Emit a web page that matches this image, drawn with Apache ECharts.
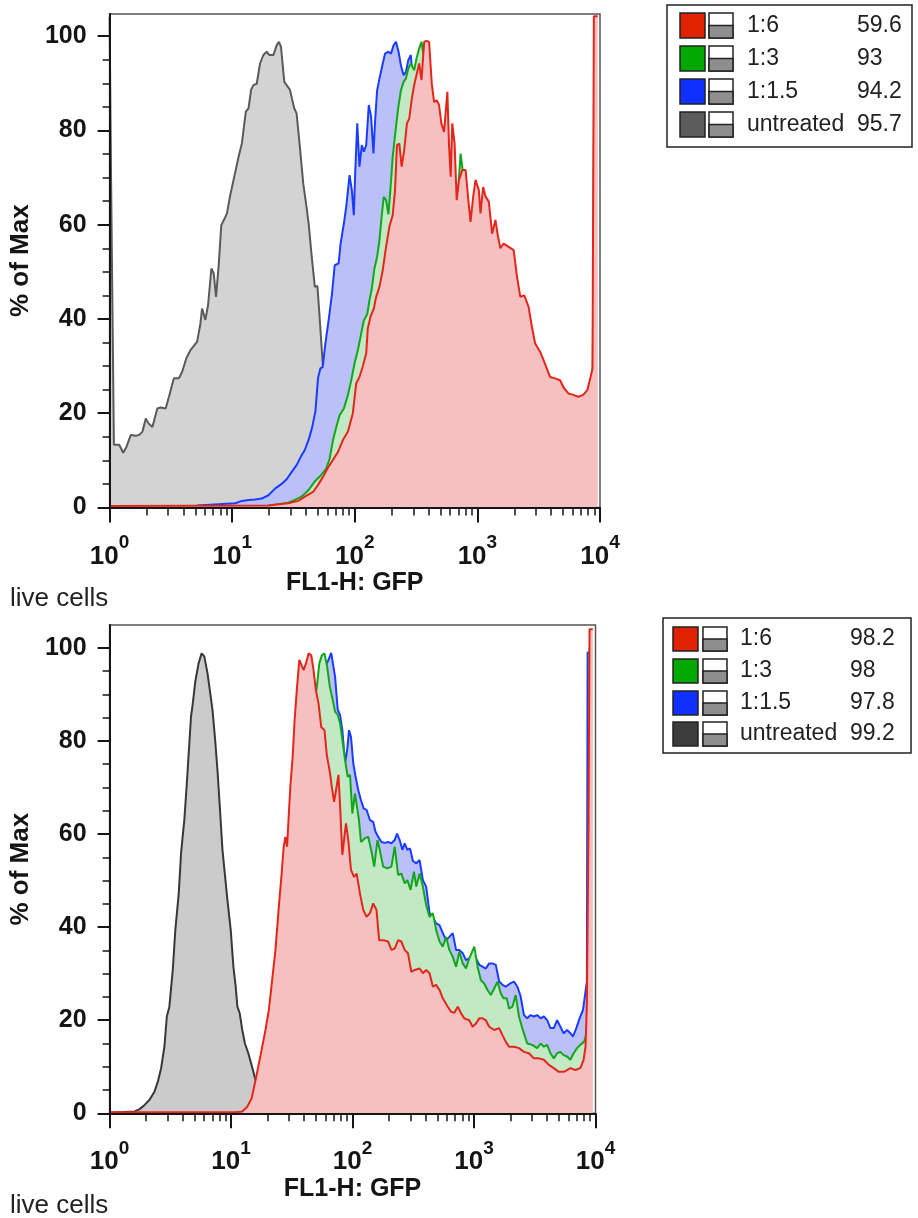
<!DOCTYPE html>
<html>
<head>
<meta charset="utf-8">
<script src="https://cdn.jsdelivr.net/npm/echarts@6/dist/echarts.min.js"></script>
<style>
  html, body { margin: 0; padding: 0; background: #fff; }
  #chart { width: 918px; height: 1218px; }
</style>
</head>
<body>
<div id="chart"></div>
<script>
// x = log10(FL1-H: GFP), y = % of Max
// ---------- top panel ----------
var topGray = [[0,104],[0.012,69.5],[0.035,13.3],[0.078,13.3],[0.111,11.6],[0.138,12.9],[0.173,15.4],[0.214,15.2],[0.241,15.4],[0.268,16.1],[0.295,18.9],[0.316,17.9],[0.349,17.1],[0.389,21],[0.416,21.2],[0.457,21],[0.484,23.5],[0.524,27.4],[0.565,27.4],[0.592,28.8],[0.625,31.6],[0.66,33.4],[0.714,35.2],[0.741,39.1],[0.754,42.2],[0.781,39.8],[0.803,42.9],[0.83,50.7],[0.849,49.7],[0.868,44.7],[0.889,51.1],[0.911,59.9],[0.938,61.3],[0.957,62.4],[0.984,66.3],[1.017,70.2],[1.052,74.4],[1.079,77.3],[1.111,84],[1.133,84.7],[1.154,88.6],[1.173,89.6],[1.2,89.9],[1.227,94.2],[1.254,96],[1.281,96.7],[1.303,96],[1.336,96],[1.363,98.1],[1.381,98.8],[1.398,97.7],[1.425,90.3],[1.444,89.6],[1.471,88.6],[1.506,84.7],[1.525,83.6],[1.552,76.5],[1.579,68.8],[1.606,63.8],[1.625,59.9],[1.646,53.9],[1.674,46.8],[1.695,47],[1.714,40],[1.741,29.5],[1.78,18],[1.84,8],[1.9,3],[1.98,0.5],[2.05,0]];
var topBlue = [[0.714,0.4],[1.025,0.9],[1.079,1.4],[1.133,1.6],[1.187,1.7],[1.241,1.9],[1.295,2.6],[1.349,4],[1.403,5],[1.444,6],[1.484,7.5],[1.525,9],[1.56,10.8],[1.592,12.2],[1.625,14.5],[1.652,17],[1.679,20.5],[1.7,27.5],[1.719,29.5],[1.738,29.8],[1.76,34.8],[1.787,39.8],[1.814,45.4],[1.836,51.4],[1.868,51.8],[1.884,56],[1.911,60.3],[1.93,63.8],[1.957,70.5],[1.976,67.3],[1.992,62],[2.003,70.9],[2.02,81.5],[2.038,72.3],[2.057,76.9],[2.074,75.5],[2.093,76.9],[2.114,85.4],[2.133,82.9],[2.152,75.1],[2.166,82.2],[2.182,88.5],[2.201,91],[2.228,94.2],[2.247,96.3],[2.274,96.7],[2.295,96.3],[2.317,98.1],[2.336,98.8],[2.357,96.7],[2.376,93.8],[2.398,91.7],[2.417,92.4],[2.436,94.9],[2.457,96],[2.48,88],[2.52,80],[2.6,70],[2.7,58],[2.8,48],[2.9,40],[3,33],[3.1,27],[3.2,22],[3.3,18],[3.4,16],[3.5,14],[3.6,13],[3.7,12],[3.8,12],[3.9,14],[3.94,20],[3.96,100],[3.975,100]];
var topGreen = [[1.281,0.3],[1.457,1],[1.511,1.6],[1.565,2.3],[1.619,3.6],[1.673,5.5],[1.727,6.9],[1.768,8.3],[1.795,10.4],[1.822,14.3],[1.849,17.1],[1.876,19.6],[1.911,21],[1.944,23.9],[1.971,27],[1.998,30.6],[2.025,33.4],[2.052,36.9],[2.074,39.7],[2.101,41],[2.12,44],[2.139,46.5],[2.16,50.7],[2.182,53.2],[2.201,56.7],[2.22,62],[2.236,65.9],[2.255,65.2],[2.274,62.2],[2.29,67.3],[2.309,74.4],[2.33,79.4],[2.355,85],[2.376,88.5],[2.398,90.3],[2.417,91],[2.436,93.1],[2.457,94.2],[2.484,92.8],[2.506,95.6],[2.525,97.4],[2.544,98.8],[2.56,98.8],[2.58,93],[2.62,84],[2.66,80],[2.7,76],[2.74,68],[2.8,63],[2.835,64],[2.863,75.1],[2.885,70.5],[2.92,64],[3,58],[3.1,52],[3.2,45],[3.3,35],[3.4,27],[3.5,22],[3.6,19],[3.7,18],[3.8,18],[3.88,20],[3.94,26],[3.955,100],[3.975,100]];
var topRed = [[0,0.3],[1.295,0.4],[1.457,0.9],[1.538,1.4],[1.606,2.5],[1.66,3.3],[1.7,4.8],[1.741,6.5],[1.782,8.5],[1.822,10.1],[1.863,11.8],[1.903,14.3],[1.944,16.1],[1.984,20],[2.011,26.3],[2.038,27.7],[2.065,29.9],[2.093,32.7],[2.106,38],[2.128,40.5],[2.155,42.2],[2.174,44.7],[2.201,46.8],[2.228,50.4],[2.255,55.3],[2.282,59.6],[2.309,62],[2.328,67.3],[2.344,76.9],[2.363,77.2],[2.382,72.3],[2.403,75.8],[2.425,81.5],[2.444,82.5],[2.463,86.4],[2.484,89.6],[2.506,92.1],[2.525,94.2],[2.544,90.7],[2.566,98.8],[2.587,99],[2.606,98.8],[2.628,89.9],[2.647,86],[2.668,86.4],[2.687,85.4],[2.706,81.5],[2.728,79.7],[2.755,88.2],[2.768,77.2],[2.782,70.2],[2.795,81.5],[2.814,77.2],[2.831,65.2],[2.85,69.5],[2.877,71.6],[2.904,71.6],[2.923,66],[2.944,60.6],[2.966,66],[2.985,69.5],[3.012,67.3],[3.025,62.4],[3.047,68],[3.066,66],[3.093,64.9],[3.12,58.1],[3.147,61],[3.166,57.8],[3.187,55],[3.214,56],[3.255,55.3],[3.296,54.6],[3.323,49],[3.35,44.7],[3.382,45],[3.417,42.6],[3.444,38.4],[3.471,34.8],[3.512,33],[3.539,31.3],[3.566,29.5],[3.593,27.7],[3.634,27.4],[3.674,27],[3.707,25.3],[3.742,24.2],[3.782,23.9],[3.823,23.5],[3.863,23.9],[3.896,24.9],[3.923,27.7],[3.939,29.5],[3.95,104.2],[3.982,104.2]];

// ---------- bottom panel ----------
var botGray = [[0,0.1],[0.206,0.4],[0.247,0.9],[0.288,1.8],[0.329,2.9],[0.37,4.7],[0.397,6.8],[0.424,9.7],[0.451,14.3],[0.471,20.8],[0.492,22.9],[0.52,30.8],[0.541,39.4],[0.569,47.2],[0.588,55.8],[0.601,59.4],[0.615,63],[0.634,70.2],[0.651,77.3],[0.67,85.2],[0.683,87.7],[0.705,92.7],[0.732,96.6],[0.757,98.8],[0.779,98.2],[0.806,94.5],[0.825,90.9],[0.847,86.6],[0.869,80.2],[0.888,73.7],[0.907,65.9],[0.929,56.6],[0.951,50.8],[0.97,45.8],[0.997,39.4],[1.019,31.5],[1.038,27.2],[1.052,22.9],[1.071,21.5],[1.092,17.9],[1.114,15],[1.142,12.9],[1.161,11.1],[1.18,9.3],[1.202,7],[1.243,4.5],[1.297,2],[1.365,0.5],[1.474,0]];
var botBlue = [[1.038,0.2],[1.174,0.3],[1.311,10],[1.42,30],[1.529,58],[1.638,78],[1.72,89],[1.775,96],[1.802,97.4],[1.824,98.9],[1.84,98.8],[1.856,93.8],[1.878,86.7],[1.897,85.6],[1.916,82.3],[1.938,75.2],[1.957,78.4],[1.971,82.3],[1.987,80.9],[2.006,75.2],[2.025,72.3],[2.047,69.4],[2.069,67.3],[2.091,65.5],[2.115,65.2],[2.143,63],[2.17,62.6],[2.189,60.5],[2.211,59.4],[2.238,58.3],[2.265,58.1],[2.293,58.3],[2.32,58],[2.347,58.7],[2.366,60.1],[2.388,58.7],[2.41,56.6],[2.429,58],[2.451,56.6],[2.473,56.9],[2.497,54.2],[2.525,53.7],[2.552,54.4],[2.579,50.1],[2.606,48.7],[2.634,43],[2.661,42.2],[2.688,40.8],[2.716,40.4],[2.743,38.7],[2.77,37.2],[2.797,37.9],[2.825,38.7],[2.852,35.1],[2.879,35.1],[2.907,34.4],[2.934,32.9],[2.961,33.3],[2.988,32.2],[3.016,33.3],[3.043,31.9],[3.07,31.5],[3.097,31.1],[3.125,32.2],[3.152,32.2],[3.179,31.9],[3.207,28.3],[3.234,27.6],[3.261,27.2],[3.297,27.9],[3.329,28.3],[3.357,27.2],[3.384,25.1],[3.411,21.1],[3.438,20.4],[3.466,21.1],[3.493,20.8],[3.52,21.1],[3.548,20.4],[3.575,20.8],[3.602,20],[3.629,18.3],[3.657,18.3],[3.684,20],[3.711,18.6],[3.738,17.2],[3.766,17.9],[3.793,17.2],[3.815,16.5],[3.842,18.3],[3.869,20.4],[3.897,22.2],[3.916,25.8],[3.929,28.3],[3.935,99],[3.973,99]];
var botGreen = [[1.038,0.2],[1.161,0.2],[1.229,2.5],[1.311,12],[1.42,34],[1.529,62],[1.638,80.9],[1.706,91.6],[1.726,96.6],[1.747,98.4],[1.769,98.8],[1.791,95.9],[1.813,91.6],[1.834,89.1],[1.856,86.3],[1.878,85.6],[1.897,83.8],[1.916,80.2],[1.938,75.9],[1.96,72.3],[1.979,72.7],[1.998,64.4],[2.02,68.7],[2.034,68.4],[2.053,63],[2.069,58.3],[2.102,59.1],[2.129,59.4],[2.156,56.2],[2.178,53],[2.205,58.7],[2.224,56.6],[2.252,53],[2.287,52.6],[2.32,53],[2.347,57.3],[2.375,51.2],[2.402,51.5],[2.429,49.4],[2.451,50.1],[2.478,48],[2.505,51.9],[2.525,48.7],[2.552,51.5],[2.579,48.7],[2.606,44.7],[2.634,42.2],[2.661,43],[2.688,39.4],[2.716,36.9],[2.743,35.8],[2.77,37.9],[2.797,35.1],[2.825,33.6],[2.852,31.5],[2.879,34.7],[2.907,32.2],[2.934,31.1],[2.961,33.3],[3.002,35.8],[3.029,31.5],[3.057,28.6],[3.084,27.9],[3.111,26.5],[3.138,25.4],[3.166,26.8],[3.193,28.3],[3.22,25.8],[3.242,24.7],[3.269,24.7],[3.288,22.5],[3.316,22.9],[3.343,25.4],[3.37,20.8],[3.397,18.3],[3.438,15],[3.479,14.7],[3.52,14],[3.548,15],[3.575,14.3],[3.602,14.7],[3.629,12.9],[3.657,11.8],[3.684,12.9],[3.711,13.2],[3.738,12.5],[3.766,12.2],[3.793,11.5],[3.82,12.9],[3.848,14],[3.875,14.7],[3.907,15.4],[3.924,17],[3.935,20],[3.951,100],[3.973,100]];
var botRed = [[0,0.2],[1.038,0.2],[1.092,0.4],[1.133,1.4],[1.169,3.2],[1.202,7.2],[1.243,12.5],[1.283,17.9],[1.311,22.2],[1.338,28.6],[1.365,35],[1.393,44.4],[1.414,50.8],[1.433,57.3],[1.447,59.4],[1.461,57.3],[1.474,63.7],[1.488,70.2],[1.507,76.6],[1.523,84.5],[1.543,91.6],[1.562,97.4],[1.578,97.7],[1.597,95.2],[1.616,96.6],[1.638,98.8],[1.66,98.4],[1.679,95.2],[1.698,90.9],[1.72,88],[1.742,83],[1.769,82.3],[1.788,77],[1.815,73],[1.829,70.2],[1.848,66.9],[1.864,69.4],[1.884,72.7],[1.897,66.2],[1.916,55.5],[1.933,59.4],[1.946,62.3],[1.965,58.7],[1.987,52.3],[2.012,50.8],[2.034,51.5],[2.061,47.2],[2.088,43.7],[2.115,42.2],[2.143,43],[2.17,45.1],[2.197,43.7],[2.219,37.2],[2.252,37.2],[2.293,36.9],[2.32,35.1],[2.347,35.4],[2.375,37.2],[2.402,36.9],[2.429,35.1],[2.456,34.4],[2.484,30.4],[2.511,30.8],[2.552,31.1],[2.579,30.1],[2.606,30.8],[2.634,30.1],[2.661,27.2],[2.688,27.6],[2.716,26.5],[2.743,24.7],[2.784,22.9],[2.811,21.8],[2.838,21.6],[2.866,22.9],[2.893,21.5],[2.92,20.4],[2.961,20],[2.988,18.6],[3.016,19.3],[3.043,20.4],[3.07,20.4],[3.097,20],[3.125,18.6],[3.166,17.9],[3.207,18.3],[3.234,16.8],[3.261,15.4],[3.288,14.3],[3.329,14.3],[3.37,14],[3.411,13.2],[3.452,12.9],[3.493,11.8],[3.534,11.8],[3.575,11.5],[3.616,10.4],[3.657,9.7],[3.698,8.9],[3.738,8.9],[3.766,9.3],[3.793,9.7],[3.834,9.3],[3.875,9.7],[3.902,11.5],[3.918,14.3],[3.929,23.6],[3.943,63],[3.951,104],[3.978,104]];

// legend
var legendNames = ['1:6', '1:3', '1:1.5', 'untreated'];
var legendTopValues = ['59.6', '93', '94.2', '95.7'];
var legendBotValues = ['98.2', '98', '97.8', '99.2'];

var xMajor = [0, 1, 2, 3, 4];
var yMajor = [0, 20, 40, 60, 80, 100];
var yMinor = [5, 10, 15, 25, 30, 35, 45, 50, 55, 65, 70, 75, 85, 90, 95];
var xMinor = [];
for (var k = 0; k < 4; k++) {
    for (var m = 2; m <= 9; m++) xMinor.push(k + Math.log10(m));
}

var FONT = '"Liberation Sans", Arial, sans-serif';
var INK = '#151515';

var chart = echarts.init(document.getElementById('chart'));

var grids = [
    {left: 107, top: 14, width: 493, height: 493.5, show: true, borderColor: '#555', borderWidth: 1.5},
    {left: 106.5, top: 625, width: 489, height: 488.3, show: true, borderColor: '#555', borderWidth: 1.5}
];
var yMax = [104.7, 104.9];

var xAxes = [], yAxes = [];
grids.forEach(function (g, i) {
    // main x axis: decades with 10^n labels
    xAxes.push({
        gridIndex: i, type: 'value', min: 0, max: 4, interval: 1, z: 20,
        name: 'FL1-H: GFP', nameLocation: 'middle', nameGap: 58,
        nameTextStyle: {fontFamily: FONT, fontSize: 25, fontWeight: 'bold', color: INK},
        axisLine: {lineStyle: {color: INK, width: 2}},
        axisTick: {length: 15, lineStyle: {color: INK, width: 2}, customValues: xMajor},
        axisLabel: {
            margin: 26, customValues: xMajor,
            formatter: function (v) { return '{b|10}{s|' + Math.round(v) + '}'; },
            rich: {
                b: {fontFamily: FONT, fontSize: 26, fontWeight: 'bold', color: INK, lineHeight: 36, verticalAlign: 'bottom'},
                s: {fontFamily: FONT, fontSize: 19, fontWeight: 'bold', color: INK, lineHeight: 18, verticalAlign: 'top'}
            }
        },
        splitLine: {show: false}
    });
    // minor log ticks
    xAxes.push({
        gridIndex: i, type: 'value', min: 0, max: 4, position: 'bottom', z: 20,
        axisLine: {show: false},
        axisTick: {length: 8, lineStyle: {color: INK, width: 1.5}, customValues: xMinor},
        axisLabel: {show: false},
        splitLine: {show: false}
    });
    yAxes.push({
        gridIndex: i, type: 'value', min: 0, max: yMax[i], interval: 20, z: 20,
        name: '% of Max', nameLocation: 'middle', nameGap: 63,
        nameTextStyle: {fontFamily: FONT, fontSize: 26, fontWeight: 'bold', color: INK},
        axisLine: {show: true, lineStyle: {color: INK, width: 2}},
        axisTick: {show: true, length: 12, lineStyle: {color: INK, width: 2}, customValues: yMajor},
        axisLabel: {margin: 23, customValues: yMajor, fontFamily: FONT, fontSize: 25, fontWeight: 'bold', color: INK},
        splitLine: {show: false}
    });
    yAxes.push({
        gridIndex: i, type: 'value', min: 0, max: yMax[i], position: 'left', z: 20,
        axisLine: {show: false},
        axisTick: {show: true, length: 7, lineStyle: {color: INK, width: 1.5}, customValues: yMinor},
        axisLabel: {show: false},
        splitLine: {show: false}
    });
});

// each histogram gets its own z so that a later one covers both fill and line of the earlier ones
function hist(data, i, z, line, fill) {
    return {
        type: 'line', data: data, xAxisIndex: i * 2, yAxisIndex: i * 2, z: z,
        symbol: 'none', silent: true, animation: false,
        lineStyle: {color: line, width: 2},
        areaStyle: {color: fill, opacity: 1}
    };
}

var series = [
    hist(topGray, 0, 2, '#5a5a5a', '#d3d3d3'),
    hist(topBlue, 0, 3, '#1a3cff', '#bcc0f8'),
    hist(topGreen, 0, 4, '#10a81a', '#c2e8c4'),
    hist(topRed, 0, 5, '#e4261a', '#f6c0c0'),
    hist(botGray, 1, 2, '#383838', '#cbcbcb'),
    hist(botBlue, 1, 3, '#1a3cff', '#bcc0f8'),
    hist(botGreen, 1, 4, '#10a81a', '#c2e8c4'),
    hist(botRed, 1, 5, '#e4261a', '#f6c0c0')
];

// legend boxes drawn as graphics (two icons + label + value per row)
function legendBox(box, rows, rowH, sqX, iconX, textX, valX, values, squareColors) {
    var els = [{
        type: 'rect', shape: {x: box[0], y: box[1], width: box[2], height: box[3]},
        style: {fill: '#fff', stroke: '#222', lineWidth: 1.5}
    }];
    rows.forEach(function (ry, r) {
        els.push({type: 'rect', shape: {x: sqX, y: ry, width: 25, height: rowH},
            style: {fill: squareColors[r], stroke: '#222', lineWidth: 1.5}});
        els.push({type: 'rect', shape: {x: iconX, y: ry, width: 24, height: rowH},
            style: {fill: '#fff', stroke: '#222', lineWidth: 1.5}});
        els.push({type: 'rect', shape: {x: iconX, y: ry + rowH / 2, width: 24, height: rowH / 2},
            style: {fill: '#8e8e8e', stroke: '#222', lineWidth: 1.5}});
        els.push({type: 'text', x: textX, y: ry + rowH / 2,
            style: {text: legendNames[r], fontFamily: FONT, fontSize: 23, fill: '#222', verticalAlign: 'middle'}});
        els.push({type: 'text', x: valX, y: ry + rowH / 2,
            style: {text: values[r], fontFamily: FONT, fontSize: 23, fill: '#222', verticalAlign: 'middle'}});
    });
    return els;
}

var graphics = [].concat(
    legendBox([667, 5, 245, 142], [13, 46, 79, 112], 25, 680, 709, 747, 857, legendTopValues,
        ['#e02200', '#00a800', '#1030ff', '#5c5c5c']),
    legendBox([663, 618, 248, 135], [627, 659, 691, 722], 24, 673, 703, 740, 850, legendBotValues,
        ['#e02200', '#00a800', '#1030ff', '#3c3c3c'])
);

var option = {
    backgroundColor: '#fff',
    animation: false,
    title: [
        {text: 'live cells', left: 10, top: 586, padding: 0,
         textStyle: {fontFamily: FONT, fontSize: 26, fontWeight: 'normal', color: '#222'}},
        {text: 'live cells', left: 10, top: 1193, padding: 0,
         textStyle: {fontFamily: FONT, fontSize: 26, fontWeight: 'normal', color: '#222'}}
    ],
    grid: grids,
    xAxis: xAxes,
    yAxis: yAxes,
    series: series,
    graphic: graphics
};

chart.setOption(option);
</script>
</body>
</html>
